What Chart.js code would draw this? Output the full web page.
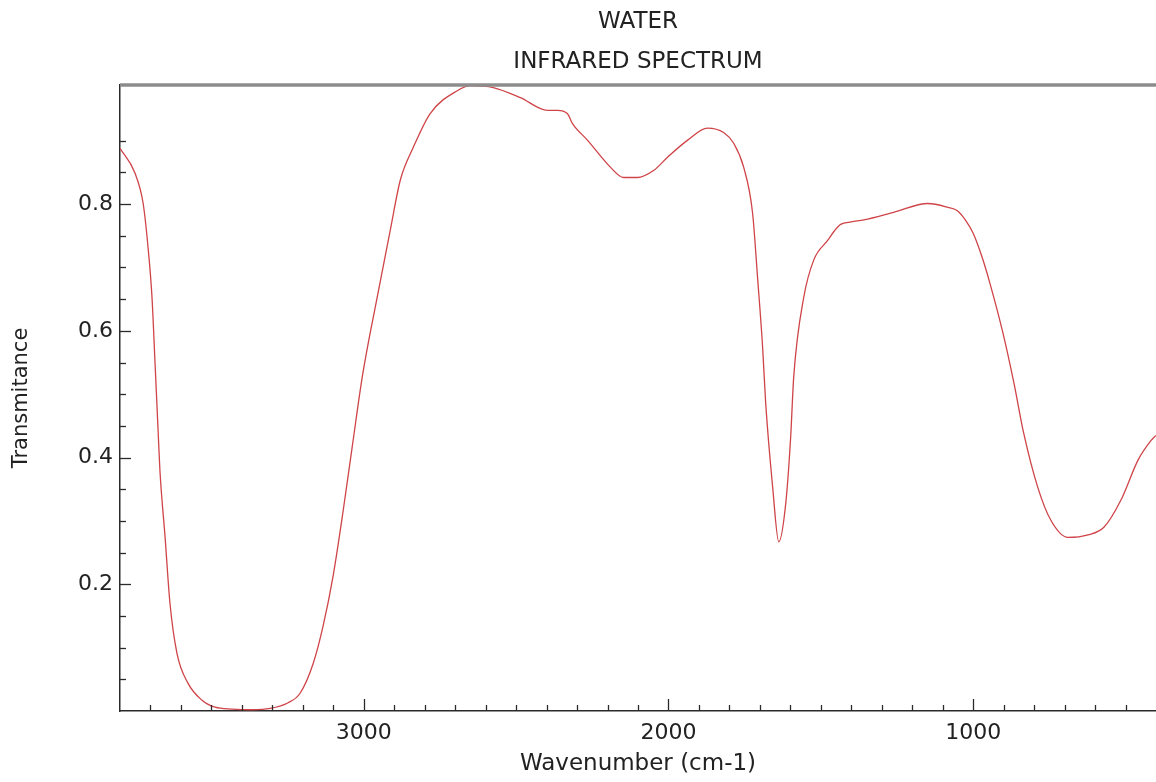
<!DOCTYPE html>
<html>
<head>
<meta charset="utf-8">
<script src="https://cdn.jsdelivr.net/npm/chart.js@4/dist/chart.umd.min.js"></script>
<style>
html,body{margin:0;padding:0;background:#ffffff;}
#wrap{width:1156px;height:782px;}
</style>
</head>
<body>
<div id="wrap"><canvas id="c" width="1156" height="782"></canvas></div>
<script>
// ---- data ----
const titleLines = ['WATER', 'INFRARED SPECTRUM'];
const xAxisTitle = 'Wavenumber (cm-1)';
const yAxisTitle = 'Transmitance';
const xLabelValues = [3000, 2000, 1000];
const yLabelValues = [0.2, 0.4, 0.6, 0.8];

const wavenumbers = [
  3800, 3751, 3724, 3708, 3695, 3685, 3675, 3669, 3652, 3636,
  3613, 3577, 3531, 3488, 3432, 3370, 3307, 3248, 3209, 3166,
  3133, 3100, 3067, 3037, 3005, 2956, 2913, 2880, 2837, 2782,
  2693, 2650, 2575, 2486, 2397, 2364, 2332, 2315, 2266, 2190,
  2148, 2102, 2049, 2003, 1937, 1872, 1819, 1786, 1753, 1724,
  1707, 1691, 1681, 1658, 1638, 1615, 1599, 1589, 1556, 1523,
  1477, 1455, 1435, 1400, 1359, 1261, 1149, 1083, 1053, 1027,
  1000, 972, 945, 902, 866, 834, 788, 745, 689, 623,
  571, 515, 459, 416, 400
];
const transmittance = [
  0.888, 0.849, 0.801, 0.732, 0.653, 0.549, 0.443, 0.380, 0.274, 0.170,
  0.091, 0.044, 0.017, 0.006, 0.003, 0.002, 0.004, 0.013, 0.028, 0.075,
  0.135, 0.215, 0.318, 0.420, 0.527, 0.653, 0.759, 0.838, 0.890, 0.943,
  0.979, 0.987, 0.984, 0.968, 0.948, 0.948, 0.943, 0.927, 0.901, 0.858,
  0.842, 0.842, 0.853, 0.874, 0.901, 0.920, 0.913, 0.896, 0.858, 0.786,
  0.680, 0.574, 0.486, 0.353, 0.267, 0.328, 0.432, 0.527, 0.653, 0.712,
  0.743, 0.758, 0.768, 0.772, 0.775, 0.787, 0.801, 0.795, 0.790, 0.776,
  0.754, 0.718, 0.675, 0.596, 0.517, 0.438, 0.353, 0.301, 0.274, 0.278,
  0.290, 0.333, 0.396, 0.427, 0.435
];

const FONT = "'DejaVu Sans', sans-serif";
const TEXT = '#222222';

const points = wavenumbers.map((w, i) => ({x: w, y: transmittance[i]}));

function near(v, step) {
  const r = v / step;
  return Math.abs(r - Math.round(r)) < 1e-6;
}

// inward tick marks + heavy grey top frame line
const framePlugin = {
  id: 'framePlugin',
  afterDraw(chart) {
    const {ctx, chartArea: a, scales: {x, y}} = chart;
    ctx.save();
    ctx.strokeStyle = '#2a2a2a';
    ctx.lineWidth = 1.3;
    x.ticks.forEach(t => {
      if (t.value <= x.min || t.value >= x.max) return;
      const px = Math.round(x.getPixelForValue(t.value)) + 0.5;
      const len = near(t.value, 1000) ? 12 : 6;
      ctx.beginPath();
      ctx.moveTo(px, a.bottom);
      ctx.lineTo(px, a.bottom - len);
      ctx.stroke();
    });
    y.ticks.forEach(t => {
      if (t.value <= y.min + 1e-9 || t.value >= y.max - 1e-9) return;
      const py = Math.round(y.getPixelForValue(t.value)) + 0.5;
      const len = near(t.value, 0.2) ? 11 : 6;
      ctx.beginPath();
      ctx.moveTo(a.left, py);
      ctx.lineTo(a.left + len, py);
      ctx.stroke();
    });
    ctx.strokeStyle = '#8c8c8c';
    ctx.lineWidth = 3.5;
    ctx.beginPath();
    ctx.moveTo(a.left, a.top);
    ctx.lineTo(chart.width, a.top);
    ctx.stroke();
    ctx.restore();
  }
};

new Chart(document.getElementById('c'), {
  type: 'line',
  data: {
    datasets: [{
      data: points,
      borderColor: '#cf4448',
      borderWidth: 1.3,
      pointRadius: 0,
      fill: false,
      cubicInterpolationMode: 'monotone'
    }]
  },
  options: {
    responsive: false,
    animation: false,
    devicePixelRatio: 1,
    layout: {padding: {left: 0, right: 0, top: 0, bottom: 0}},
    plugins: {
      legend: {display: false},
      tooltip: {enabled: false},
      title: {
        display: true,
        text: titleLines,
        fullSize: false,
        color: TEXT,
        font: {family: FONT, size: 23, weight: 'normal', lineHeight: 40 / 23},
        padding: {top: 2, bottom: 3}
      }
    },
    scales: {
      x: {
        type: 'linear',
        reverse: true,
        min: 400,
        max: 3800,
        afterFit(s) { s.height = 71; s.paddingLeft = 0; s.paddingRight = 0; },
        border: {display: true, color: '#2a2a2a', width: 1.5},
        grid: {display: false, drawTicks: false},
        ticks: {
          stepSize: 100,
          autoSkip: false,
          maxRotation: 0,
          padding: 9,
          color: TEXT,
          font: {family: FONT, size: 22},
          callback: v => xLabelValues.some(l => Math.abs(l - v) < 1e-6) ? String(v) : ''
        },
        title: {
          display: true,
          text: xAxisTitle,
          color: TEXT,
          font: {family: FONT, size: 23},
          padding: {top: 0, bottom: 4}
        }
      },
      y: {
        type: 'linear',
        min: 0,
        max: 0.988,
        afterFit(s) { s.width = 120; s.paddingTop = 0; s.paddingBottom = 0; },
        border: {display: true, color: '#2a2a2a', width: 1.5},
        grid: {display: false, drawTicks: false},
        ticks: {
          stepSize: 0.05,
          autoSkip: false,
          padding: 7,
          color: TEXT,
          font: {family: FONT, size: 22},
          callback: v => yLabelValues.some(l => Math.abs(l - v) < 1e-6) ? v.toFixed(1) : ''
        },
        title: {
          display: true,
          text: yAxisTitle,
          color: TEXT,
          font: {family: FONT, size: 21},
          padding: {top: 9, bottom: 0}
        }
      }
    }
  },
  plugins: [framePlugin]
});
</script>
</body>
</html>
